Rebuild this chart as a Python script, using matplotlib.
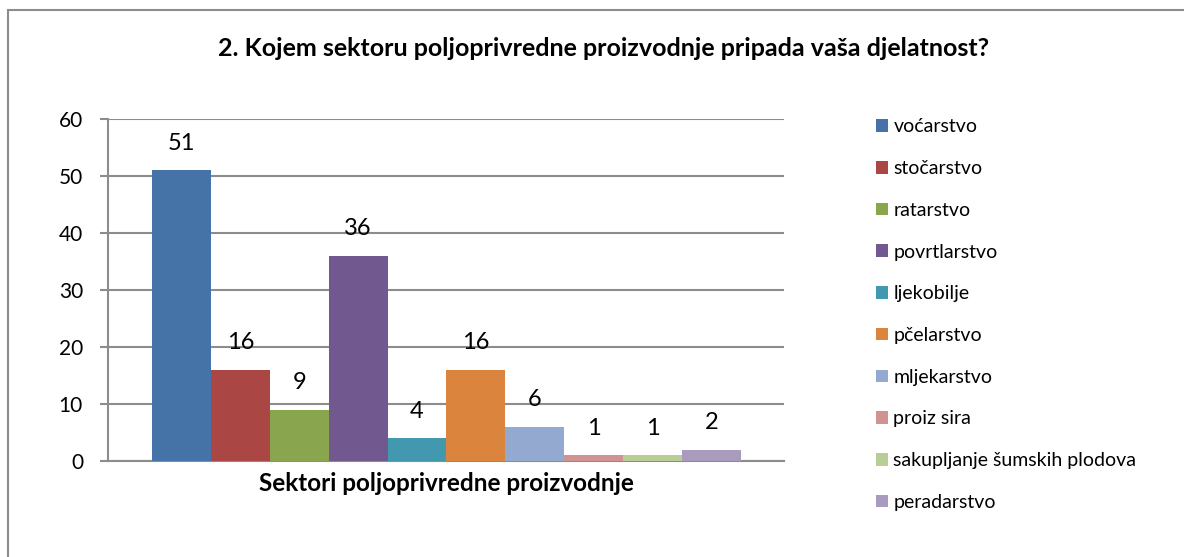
import matplotlib.pyplot as plt
from matplotlib.patches import Rectangle

plt.rcParams['font.family'] = ['Lato', 'DejaVu Sans']

sectors = ["voćarstvo", "stočarstvo", "ratarstvo", "povrtlarstvo", "ljekobilje",
           "pčelarstvo", "mljekarstvo", "proiz sira", "sakupljanje šumskih plodova",
           "peradarstvo"]
counts = [51, 16, 9, 36, 4, 16, 6, 1, 1, 2]
colors = ["#4572A7", "#AA4643", "#89A54E", "#71588F", "#4198AF",
          "#DB843D", "#93A9CF", "#D19392", "#B9CD96", "#A99BBD"]

fig = plt.figure(figsize=(11.84, 5.57), dpi=100)
ax = fig.add_axes([108 / 1184, 96 / 557, 676 / 1184, 342 / 557])

handles = []
for i, (name, val, col) in enumerate(zip(sectors, counts, colors)):
    b = ax.bar(i, val, width=1.0, color=col, label=name, zorder=3)
    handles.append(b)
    ax.annotate(str(val), (i, val), xytext=(0, 19.5), textcoords="offset points",
                ha="center", va="center", fontsize=17, color="black", zorder=4)

ax.set_xlim(-0.5 - 44 / 59, 9.5 + 43 / 59)
ax.set_ylim(0, 60)
ax.set_yticks(range(0, 61, 10))
ax.set_xticks([])
ax.yaxis.grid(True, color="#8c8c8c", linewidth=1.5, zorder=0)
ax.set_axisbelow(True)
for s in ["top", "right"]:
    ax.spines[s].set_visible(False)
for s in ["left", "bottom"]:
    ax.spines[s].set_color("#8c8c8c")
    ax.spines[s].set_linewidth(1.5)
ax.tick_params(axis="y", length=6, width=1.5, color="#8c8c8c", labelsize=15, pad=12)
ax.set_xlabel("Sektori poljoprivredne proizvodnje", fontsize=17.5, fontweight="bold",
              labelpad=8)

fig.text(604 / 1184, 1 - 48 / 557, "2. Kojem sektoru poljoprivredne proizvodnje pripada vaša djelatnost?",
         ha="center", va="center", fontsize=18, fontweight="bold")

fig.legend(handles=handles, labels=sectors, loc="upper left",
           bbox_to_anchor=(858 / 1184, 1 - 101 / 557), frameon=False,
           fontsize=14, handlelength=0.62, handleheight=0.62, handletextpad=0.3,
           labelspacing=1.27)

fig.patches.append(Rectangle((8 / 1184, -0.1), 1.2, 1 - 9.5 / 557 + 0.1,
                             transform=fig.transFigure, fill=False,
                             edgecolor="#8c8c8c", linewidth=1.5))

fig.savefig("out.png", dpi=100)
